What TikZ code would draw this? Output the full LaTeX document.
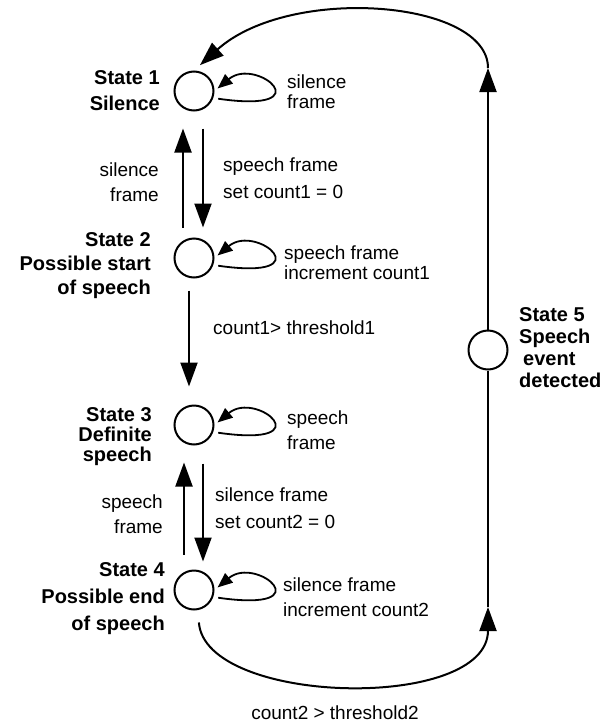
\documentclass[tikz,border=0pt]{standalone}
\usepackage{fontspec}
\setmainfont{Liberation Sans}
\usetikzlibrary{arrows.meta}

\begin{document}
\begin{tikzpicture}[x=1pt,y=-1pt,
        state/.style={circle,draw,line width=2pt,minimum size=39pt,inner sep=0pt},
        arr/.style={-{Triangle[length=24pt,width=17pt]},line width=2pt},
        selfloop/.style={-{Triangle[length=15pt,width=12pt]},line width=1.8pt,shorten <=5pt,shorten >=4pt},
        slabel/.style={font=\bfseries\fontsize{20}{#1}\selectfont,align=right,anchor=east,inner sep=0pt},
        slabel/.default=25,
        tlabel/.style={font=\fontsize{19}{#1}\selectfont,align=left,anchor=west,inner sep=0pt},
        tlabel/.default=25]
    \useasboundingbox (0,0) rectangle (610,723);

    % states
    \node [state] (s1) at (194,91) {};
    \node [state] (s2) at (194,258) {};
    \node [state] (s3) at (194,425) {};
    \node [state] (s4) at (194,590) {};
    \node [state] (s5) at (488,350) {};
    \coordinate (c45) at (488,607);
    \coordinate (c51) at (488,68);

    % state names
    \node [slabel=26] (l1) at (160,91) {State 1\\Silence};
    \node [slabel=24] (l2) at (151,266) {State 2\\Possible start\\of speech};
    \node [slabel=20] (l3) at (152,437) {State 3\\Definite\\speech};
    \node [slabel=27] (l4) at (165,599) {State 4\\Possible end\\of speech};
    \node [slabel=22,align=left,anchor=west] (l5) at (519,348) {State 5\\Speech\\\hspace*{4pt}event\\detected};

    % self loops
    \draw [selfloop] (s1.-20) .. controls +(111,16) and +(42,-35) .. (s1.east);
    \draw [selfloop] (s2.-20) .. controls +(111,16) and +(42,-35) .. (s2.east);
    \draw [selfloop] (s3.-20) .. controls +(111,16) and +(42,-35) .. (s3.east);
    \draw [selfloop] (s4.-20) .. controls +(111,16) and +(42,-35) .. (s4.east);
    \node [tlabel=20] (t1) at (287,91.5) {silence\\frame};
    \node [tlabel=20] (t2) at (284,262.5) {speech frame\\increment count1};
    \node [tlabel] (t3) at (287,430) {speech\\frame};
    \node [tlabel] (t4) at (283,597) {silence frame\\increment count2};

    % transitions
    \draw [arr,shorten <=17pt,shorten >=10pt] ([xshift=9pt]s1.south) -- ([xshift=9pt]s2.north);
    \draw [arr,shorten <=10pt,shorten >=17pt] ([xshift=-11pt]s2.north) -- ([xshift=-11pt]s1.south);
    \draw [arr,shorten <=12pt,shorten >=18pt] ([xshift=-5pt]s2.south) -- ([xshift=-5pt]s3.north);
    \draw [arr,shorten <=18pt,shorten >=8pt] ([xshift=9pt]s3.south) -- ([xshift=9pt]s4.north);
    \draw [arr,shorten <=15pt,shorten >=17pt] ([xshift=-10pt]s4.north) -- ([xshift=-10pt]s3.south);
    \draw [arr,shorten <=12pt] ([xshift=4pt]s4.south) .. controls +(7,95) and +(0,105) .. (c45);
    \draw [line width=2pt] (c45) -- (s5);
    \draw [arr] (s5) -- (c51);
    \draw [arr,shorten >=8pt] (c51) .. controls +(0,-68) and +(96,-86) .. (s1.north);

    \node [tlabel,align=right,anchor=east] (e12) at (159,182) {silence\\frame};
    \node [tlabel=27] (e21) at (223,178) {speech frame\\set count1 = 0};
    \node [tlabel] (e23) at (213,328) {count1> threshold1};
    \node [tlabel,align=right,anchor=east] (e43) at (163,514) {speech\\frame};
    \node [tlabel=27] (e34) at (215,508) {silence frame\\set count2 = 0};
    \node [tlabel,anchor=center] (e45) at (335,713) {count2 > threshold2};
\end{tikzpicture}
\end{document}
